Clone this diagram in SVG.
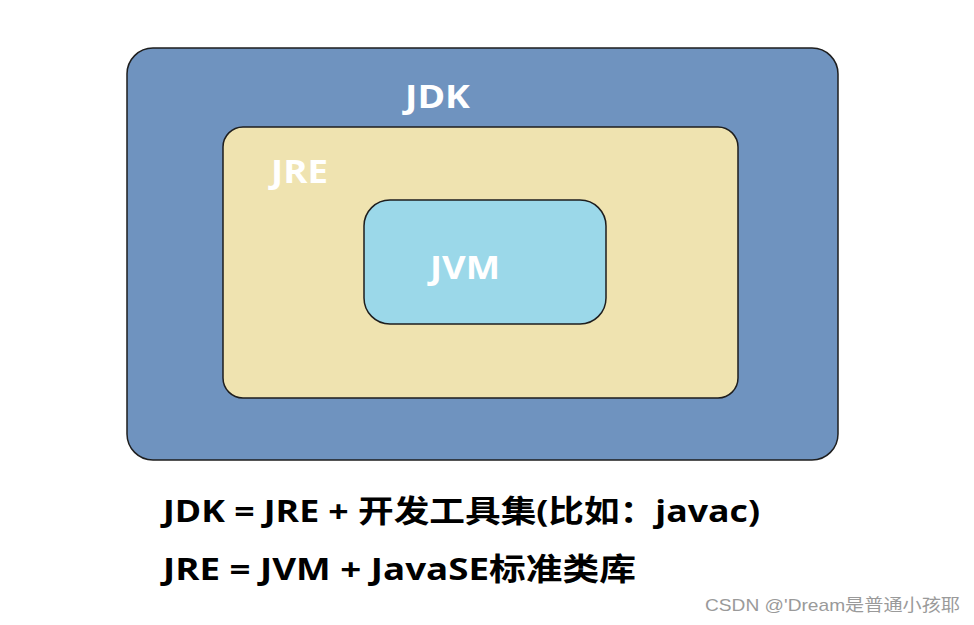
<svg xmlns="http://www.w3.org/2000/svg" width="974" height="625" viewBox="0 0 974 625">
<style>
.box{stroke:#1e1e1e;stroke-width:1.5}
.lbl{font-family:"Open Sans","Noto Sans CJK SC",sans-serif;font-weight:bold;fill:#ffffff;font-size:33px}
.eq{font-family:"Open Sans","Noto Sans CJK SC",sans-serif;font-weight:bold;fill:#000000;font-size:31px}
.wm{font-family:"Liberation Sans","Noto Sans CJK SC",sans-serif;fill:#9a9a9a;font-size:17px}
</style>
<rect width="974" height="625" fill="#ffffff"/>
<g id="jdk">
<rect class="box" x="127" y="48" width="711" height="412" rx="26" ry="26" fill="#6f93bf"/>
<text class="lbl" x="405" y="108" textLength="65" lengthAdjust="spacingAndGlyphs">JDK</text>
</g>
<g id="jre">
<rect class="box" x="223" y="127" width="515" height="271" rx="20" ry="20" fill="#efe3b0"/>
<text class="lbl" x="271" y="183" textLength="57" lengthAdjust="spacingAndGlyphs">JRE</text>
</g>
<g id="jvm">
<rect class="box" x="364" y="200" width="242" height="124" rx="26" ry="26" fill="#9bd8e9"/>
<text class="lbl" x="430" y="279" textLength="70" lengthAdjust="spacingAndGlyphs">JVM</text>
</g>
<g id="connectors"></g>
<g id="formulas">
<text class="eq" x="163" y="522" textLength="597" lengthAdjust="spacingAndGlyphs">JDK = JRE + 开发工具集(比如：javac)</text>
<text class="eq" x="163" y="580" textLength="473" lengthAdjust="spacingAndGlyphs">JRE = JVM + JavaSE标准类库</text>
</g>
<text class="wm" x="705" y="611" textLength="255" lengthAdjust="spacingAndGlyphs">CSDN @'Dream是普通小孩耶</text>
</svg>
